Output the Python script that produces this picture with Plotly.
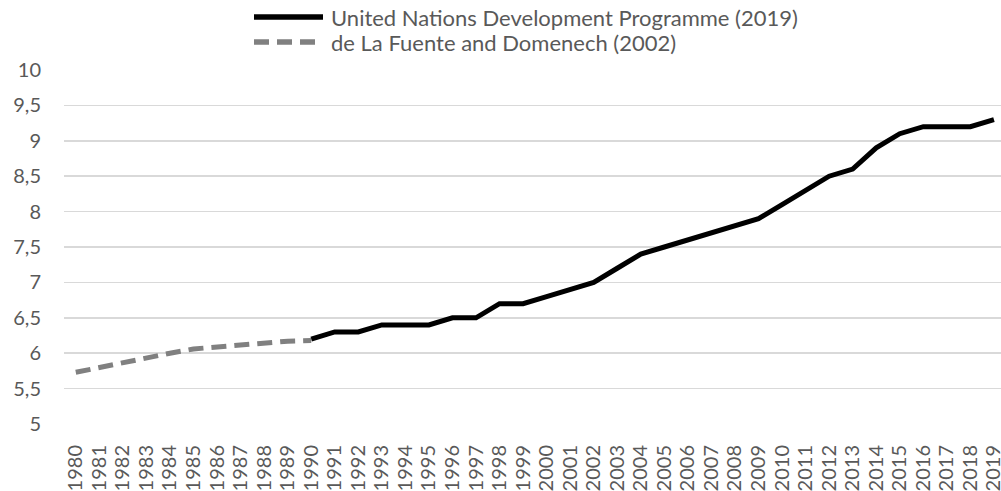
import plotly.graph_objects as go

years = [str(y) for y in range(1980, 2020)]

undp_name = "United Nations Development Programme (2019)"
undp_years = [str(y) for y in range(1990, 2020)]
undp_values = [6.2, 6.3, 6.3, 6.4, 6.4, 6.4, 6.5, 6.5, 6.7, 6.7,
               6.8, 6.9, 7.0, 7.2, 7.4, 7.5, 7.6, 7.7, 7.8, 7.9,
               8.1, 8.3, 8.5, 8.6, 8.9, 9.1, 9.2, 9.2, 9.2, 9.3]

dlfd_name = "de La Fuente and Domenech (2002)"
dlfd_years = [str(y) for y in range(1980, 1991)]
dlfd_values = [5.73, 5.80, 5.86, 5.93, 6.00, 6.06, 6.09, 6.12, 6.14, 6.17, 6.18]

y_ticks = [5, 5.5, 6, 6.5, 7, 7.5, 8, 8.5, 9, 9.5, 10]

FONT = "Lato"
TXT = "#595959"
GRID = "#d9d9d9"
W, H = 1001, 491
ML, MR, MT, MB = 64, 0, 70, 67
PW, PH = W - ML - MR, H - MT - MB

def px_x(x):
    return (x - ML) / PW

def px_y(y):
    return (H - MB - y) / PH

series = [
    (undp_name, undp_years, undp_values, "#000000", "solid"),
    (dlfd_name, dlfd_years, dlfd_values, "#808080", "15px,8px"),
]

fig = go.Figure()
for name, xs, ys, color, dash in series:
    fig.add_trace(go.Scatter(
        x=xs, y=ys, mode="lines", name=name,
        line=dict(color=color, width=5, dash=dash),
    ))

# custom legend (long line samples as in the reference)
legend_rows = [17, 42]
for (name, xs, ys, color, dash), ry in zip(series, legend_rows):
    fig.add_shape(type="line", xref="paper", yref="paper",
                  x0=px_x(254), x1=px_x(323), y0=px_y(ry), y1=px_y(ry),
                  line=dict(color=color, width=5.5, dash=dash))
    fig.add_annotation(xref="paper", yref="paper", x=px_x(329), y=px_y(ry),
                       xanchor="left", yanchor="middle", text=name,
                       showarrow=False,
                       font=dict(family=FONT, size=22, color=TXT))

fig.update_layout(
    width=W, height=H,
    margin=dict(l=ML, r=MR, t=MT, b=MB, autoexpand=False),
    paper_bgcolor="white", plot_bgcolor="white",
    separators=",.",
    font=dict(family=FONT, size=20, color=TXT),
    showlegend=False,
    hovermode=False,
    xaxis=dict(
        type="category",
        categoryorder="array", categoryarray=years,
        range=[-0.5, 39.3],
        tickmode="array", tickvals=years, ticktext=years,
        tickangle=-90,
        showgrid=False, zeroline=False,
        showline=False, ticks="",
        automargin=False,
        ticklabelstandoff=16,
        tickfont=dict(family=FONT, size=20, color=TXT),
    ),
    yaxis=dict(
        range=[5, 10],
        tickmode="array", tickvals=y_ticks,
        ticktext=[str(v).replace(".", ",").replace(",0", "") for v in y_ticks],
        showgrid=True, gridcolor=GRID, gridwidth=1.5,
        zeroline=False, showline=False, ticks="",
        automargin=False,
        ticklabelstandoff=22,
        tickfont=dict(family=FONT, size=20, color=TXT),
    ),
)

fig.write_html(
    "out.html",
    config={"displayModeBar": False, "staticPlot": True},
    post_script="document.body.style.margin='0px';document.body.style.overflow='hidden';",
)
